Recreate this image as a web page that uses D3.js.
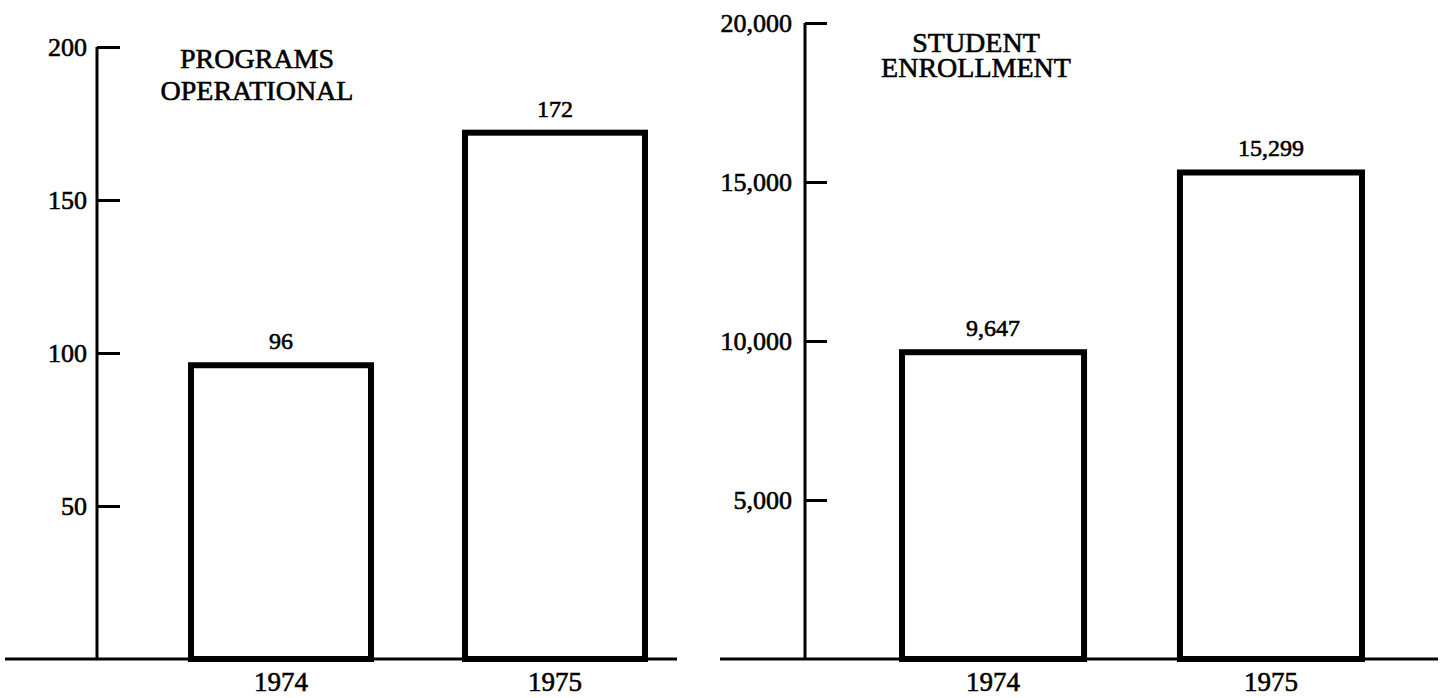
<!DOCTYPE html>
<html>
<head>
<meta charset="utf-8">
<script src="https://cdn.jsdelivr.net/npm/d3@7"></script>
<style>
  html, body { margin: 0; padding: 0; background: #fff; }
  svg { display: block; }
  text { font-family: "Liberation Serif", "Times New Roman", serif; fill: #000; stroke: #000; stroke-width: 0.6px; }
</style>
</head>
<body>
<script>
// data
const years = ["1974", "1975"];
const programs = [96, 172];
const enrollment = [9647, 15299];
const programTicks = [50, 100, 150, 200];
const enrollmentTicks = [5000, 10000, 15000, 20000];
const programTitle = ["PROGRAMS", "OPERATIONAL"];
const enrollmentTitle = ["STUDENT", "ENROLLMENT"];

const w = 1443;
const h = 698;
const ink = "#000";

const svg = d3.select("body")
              .append("svg")
              .attr("width", w)
              .attr("height", h);

const drawPanel = function(opt) {
  const y = d3.scaleLinear()
              .domain([0, opt.max])
              .range([opt.y0, opt.yTop]);

  const x = d3.scaleBand()
              .domain(years)
              .range(opt.xRange)
              .paddingInner(opt.pad)
              .paddingOuter(0);

  const g = svg.append("g");

  // baseline
  g.append("line")
   .attr("x1", opt.baseFrom)
   .attr("x2", opt.baseTo)
   .attr("y1", y(0))
   .attr("y2", y(0))
   .attr("stroke", ink)
   .attr("stroke-width", 3);

  // vertical axis line
  g.append("line")
   .attr("x1", opt.axisX)
   .attr("x2", opt.axisX)
   .attr("y1", y(opt.max))
   .attr("y2", y(0))
   .attr("stroke", ink)
   .attr("stroke-width", 3);

  const axis = d3.axisLeft(y)
                 .tickValues(opt.ticks)
                 .tickSize(-opt.tickLen)
                 .tickPadding(opt.tickPad)
                 .tickFormat(opt.fmt);

  const ag = g.append("g")
              .attr("transform", "translate(" + opt.axisX + ",0)")
              .call(axis);
  ag.select(".domain").remove();
  ag.selectAll(".tick line")
    .attr("stroke", ink)
    .attr("stroke-width", 3);
  ag.selectAll(".tick text")
    .attr("font-family", "Liberation Serif")
    .attr("font-size", 26)
    .attr("fill", ink)
    .attr("dy", "0.32em");

  // bars
  g.selectAll(".bar")
   .data(opt.values)
   .enter()
   .append("rect")
   .attr("class", "bar")
   .attr("x", (d, i) => x(years[i]))
   .attr("y", d => y(d))
   .attr("width", x.bandwidth())
   .attr("height", d => y(0) - y(d))
   .attr("fill", "none")
   .attr("stroke", ink)
   .attr("stroke-width", 6);

  // value labels
  g.selectAll(".val")
   .data(opt.values)
   .enter()
   .append("text")
   .attr("class", "val")
   .attr("x", (d, i) => x(years[i]) + x.bandwidth() / 2)
   .attr("y", d => y(d) - 16)
   .attr("text-anchor", "middle")
   .attr("font-size", 24)
   .text(d => opt.fmt(d));

  // year labels
  g.selectAll(".year")
   .data(years)
   .enter()
   .append("text")
   .attr("class", "year")
   .attr("x", d => x(d) + x.bandwidth() / 2)
   .attr("y", 691)
   .attr("text-anchor", "middle")
   .attr("font-size", 27)
   .text(d => d);

  // title
  g.selectAll(".title")
   .data(opt.title)
   .enter()
   .append("text")
   .attr("class", "title")
   .attr("x", opt.titleX)
   .attr("y", (d, i) => opt.titleY + i * opt.titleGap)
   .attr("text-anchor", "middle")
   .attr("font-size", 28)
   .text(d => d);
};

drawPanel({
  values: programs,
  max: 200,
  ticks: programTicks,
  fmt: d3.format("d"),
  y0: 659,
  yTop: 47,
  xRange: [191, 645],
  pad: 0.343,
  axisX: 97,
  tickLen: 23,
  tickPad: 10,
  baseFrom: 5,
  baseTo: 677,
  title: programTitle,
  titleX: 257,
  titleY: 68,
  titleGap: 32
});

drawPanel({
  values: enrollment,
  max: 20000,
  ticks: enrollmentTicks,
  fmt: d3.format(","),
  y0: 659,
  yTop: 23,
  xRange: [902, 1362],
  pad: 0.345,
  axisX: 805,
  tickLen: 22,
  tickPad: 13,
  baseFrom: 720,
  baseTo: 1438,
  title: enrollmentTitle,
  titleX: 976,
  titleY: 52,
  titleGap: 25
});
</script>
</body>
</html>
